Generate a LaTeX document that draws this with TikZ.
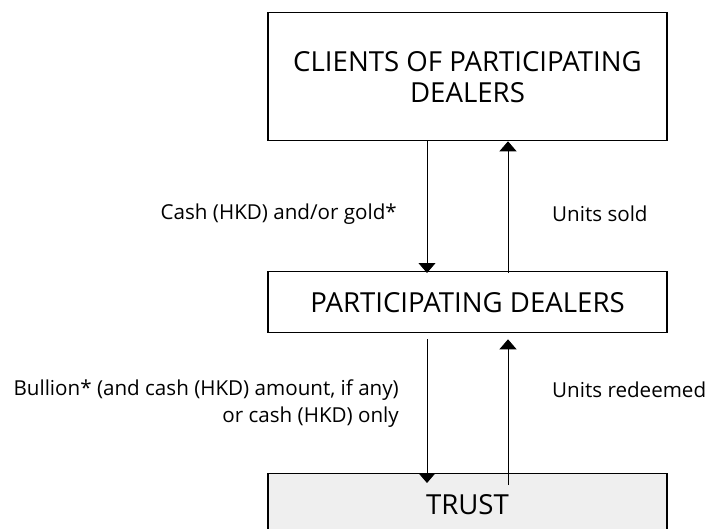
\documentclass[tikz,border=0pt]{standalone}
\usepackage{fontspec}
\setmainfont{Open Sans}
\usetikzlibrary{arrows.meta}
\definecolor{trustgray}{RGB}{239,239,239}
\tikzset{
  party/.style={draw, line width=1.3pt, minimum width=399pt, inner sep=0pt, align=center, font=\fontsize{27.6}{31}\selectfont},
  flow/.style={line width=0.9pt, -{Triangle[width=17pt,length=10pt]}},
  flowlabel/.style={inner sep=0pt, font=\fontsize{20.6}{27}\selectfont}
}
\begin{document}
\begin{tikzpicture}[x=1pt,y=-1pt]
\clip (0,0) rectangle (711,529);
% the three parties
\node[party, minimum height=128pt, anchor=north] (clients) at (467.5,12) {CLIENTS OF PARTICIPATING\\DEALERS};
\node[party, minimum height=61pt, anchor=north] (dealers) at (467.5,271) {PARTICIPATING DEALERS};
\node[party, fill=trustgray, minimum height=62pt, anchor=north] (trust) at (467.5,473) {TRUST};
% clients <-> dealers
\draw[flow] ([xshift=-40.5pt]clients.south) -- ([shift={(-40.5pt,-2pt)}]dealers.north);
\draw[flow] ([shift={(40.5pt,-2pt)}]dealers.north) -- ([xshift=40.5pt]clients.south);
\node[flowlabel, anchor=east] (cash) at (397,214) {Cash (HKD) and/or gold*};
\node[flowlabel, anchor=west] (sold) at (552,214) {Units sold};
% dealers <-> trust
\draw[flow] ([shift={(-40.5pt,-6pt)}]dealers.south) -- ([shift={(-40.5pt,-10pt)}]trust.north);
\draw[flow] ([shift={(40.5pt,-12pt)}]trust.north) -- ([shift={(40.5pt,-6pt)}]dealers.south);
\node[flowlabel, anchor=east, align=right] (bullion) at (399,403.5) {Bullion* (and cash (HKD) amount, if any)\\or cash (HKD) only};
\node[flowlabel, anchor=west] (redeemed) at (552,390) {Units redeemed};
\end{tikzpicture}
\end{document}
